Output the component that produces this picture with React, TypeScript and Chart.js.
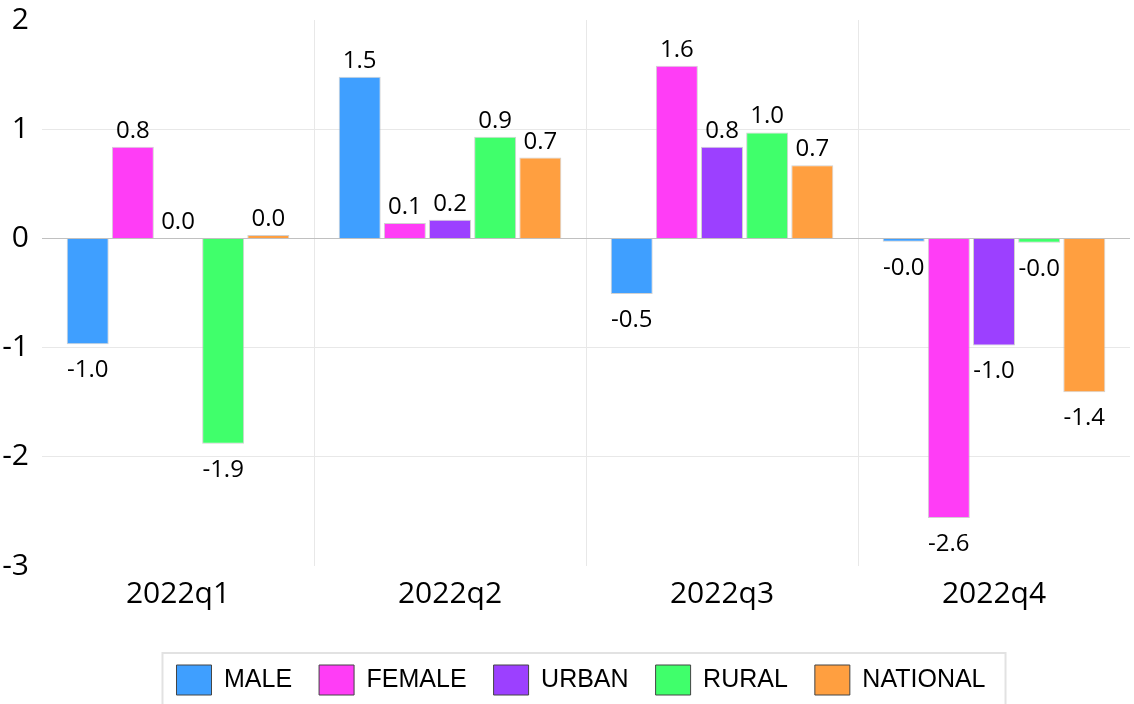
import React, { useEffect, useRef } from "react";
import { Chart, registerables } from "chart.js";

Chart.register(...registerables);

const categories = ["2022q1", "2022q2", "2022q3", "2022q4"];
const seriesNames = ["MALE", "FEMALE", "URBAN", "RURAL", "NATIONAL"];
const maleValues = [-0.97, 1.48, -0.51, -0.03];
const femaleValues = [0.84, 0.14, 1.58, -2.56];
const urbanValues = [0.0, 0.17, 0.84, -0.98];
const ruralValues = [-1.88, 0.93, 0.97, -0.04];
const nationalValues = [0.03, 0.74, 0.67, -1.41];
const yTicks = [2, 1, 0, -1, -2, -3];
const colors = ["#3f9fff", "#ff3df6", "#9c40ff", "#40ff6b", "#ff9f40"];

const FONT = "'Open Sans', sans-serif";

const labelPlugin = {
  id: "valueLabels",
  afterDatasetsDraw(chart: any) {
    const ctx = chart.ctx;
    ctx.save();
    ctx.font = `24px ${FONT}`;
    ctx.fillStyle = "#000";
    ctx.textAlign = "center";
    ctx.textBaseline = "alphabetic";
    chart.data.datasets.forEach((ds: any, di: number) => {
      const meta = chart.getDatasetMeta(di);
      meta.data.forEach((bar: any, i: number) => {
        const v = ds.data[i];
        const txt = v.toFixed(1);
        if (v >= 0) {
          ctx.fillText(txt, bar.x, bar.y - 9);
        } else {
          ctx.fillText(txt, bar.x, bar.y + 33);
        }
      });
    });
    ctx.restore();
  },
};

const legendShiftPlugin = {
  id: "legendShift",
  afterLayout(chart: any) {
    const lg = chart.legend;
    if (!lg) return;
    const shift = 15;
    lg.left += shift;
    lg.right += shift;
  },
};

const legendBoxPlugin = {
  id: "legendBox",
  afterDraw(chart: any) {
    const lg = chart.legend;
    if (!lg || !lg.legendHitBoxes || !lg.legendHitBoxes.length) return;
    const boxes = lg.legendHitBoxes;
    const first = boxes[0];
    const last = boxes[boxes.length - 1];
    const ctx = chart.ctx;
    ctx.save();
    ctx.strokeStyle = "#e2e2e2";
    ctx.lineWidth = 2;
    const x0 = first.left - 14;
    const x1 = last.left + last.width + 20;
    ctx.strokeRect(x0, first.top - 12, x1 - x0, 60);
    ctx.restore();
  },
};

export default function App() {
  const ref = useRef<HTMLCanvasElement>(null);
  useEffect(() => {
    document.body.style.margin = "0";
    const valuesList = [maleValues, femaleValues, urbanValues, ruralValues, nationalValues];
    const chart = new Chart(ref.current!, {
      type: "bar",
      data: {
        labels: categories,
        datasets: seriesNames.map((name, i) => ({
          label: name,
          data: valuesList[i],
          backgroundColor: colors[i],
          borderColor: "rgba(190,190,190,0.7)",
          borderWidth: 1,
          categoryPercentage: 0.83,
          barPercentage: 0.93,
        })),
      },
      options: {
        animation: false,
        responsive: false,
        maintainAspectRatio: false,
        layout: { padding: { top: 0, right: 4, left: 2, bottom: -1 } },
        plugins: {
          tooltip: { enabled: false },
          legend: {
            position: "bottom",
            labels: {
              font: { size: 25, family: "'Liberation Sans', Arial, sans-serif" },
              color: "#000",
              boxWidth: 35,
              boxHeight: 30,
              padding: 27,
              generateLabels(chart: any) {
                return chart.data.datasets.map((ds: any, i: number) => ({
                  text: ds.label,
                  fillStyle: colors[i],
                  strokeStyle: "#444",
                  lineWidth: 1,
                  hidden: false,
                  datasetIndex: i,
                }));
              },
            },
          },
        },
        scales: {
          x: {
            grid: {
              offset: true,
              color: (c: any) =>
                c.index === undefined || c.index === 0 || c.index >= categories.length
                  ? "rgba(0,0,0,0)"
                  : "#e8e8e8",
              drawTicks: false,
            },
            border: { display: false },
            ticks: { font: { size: 30, family: FONT }, color: "#000", padding: 10 },
            afterFit(scale: any) {
              scale.height += 16;
            },
          },
          y: {
            min: -3,
            max: 2,
            afterBuildTicks(scale: any) {
              scale.ticks = yTicks.map((v) => ({ value: v }));
            },
            afterFit(scale: any) {
              scale.paddingTop = 20;
              scale.width = 40;
            },
            grid: {
              color: (c: any) =>
                c.tick && c.tick.value === 0
                  ? "#c0c0c0"
                  : c.tick && (c.tick.value === 2 || c.tick.value === -3)
                  ? "rgba(0,0,0,0)"
                  : "#e8e8e8",
              drawTicks: false,
            },
            border: { display: false },
            ticks: { font: { size: 30, family: FONT }, color: "#000", padding: 13 },
          },
        },
      },
      plugins: [labelPlugin, legendShiftPlugin, legendBoxPlugin],
    });
    return () => chart.destroy();
  }, []);
  return <canvas ref={ref} width={1134} height={704} style={{ display: "block" }} />;
}
